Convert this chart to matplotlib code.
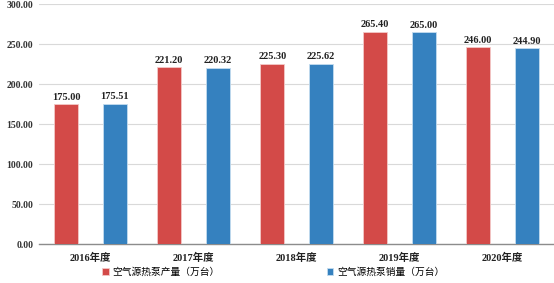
import numpy as np
import matplotlib.pyplot as plt

plt.rcParams['font.family'] = ['Liberation Serif', 'Noto Sans CJK SC']

years = ['2016年度', '2017年度', '2018年度', '2019年度', '2020年度']
output = [175.00, 221.20, 225.30, 265.40, 246.00]
sales = [175.51, 220.32, 225.62, 265.00, 244.90]
labels = ['空气源热泵产量（万台）', '空气源热泵销量（万台）']

red = '#D34A48'
blue = '#3581BF'

fig = plt.figure(figsize=(5.54, 2.83), dpi=100)
ax = fig.add_axes([0.0704, 0.1378, 0.9296, 0.848])

x = np.arange(len(years))
w = 0.235
b1 = ax.bar(x - w, output, w, color=red, edgecolor='#F3C9C8', linewidth=0.6, label=labels[0], zorder=3)
b2 = ax.bar(x + w, sales, w, color=blue, edgecolor='#C3DCEF', linewidth=0.6, label=labels[1], zorder=3)

for bars, vals in ((b1, output), (b2, sales)):
    for r, v in zip(bars, vals):
        ax.text(r.get_x() + r.get_width() / 2, v + 3, '%.2f' % v,
                ha='center', va='bottom', fontsize=7.5, fontweight='bold', color='#222222')

ax.set_xlim(-0.5, len(years) - 0.5)
ax.set_ylim(0, 300)
ax.set_yticks(range(0, 301, 50))
ax.set_yticklabels(['%.2f' % v for v in range(0, 301, 50)], fontsize=7, fontweight='bold', color='#333333')
ax.set_xticks(x)
ax.set_xticklabels(years, fontsize=7.5, fontweight='bold', color='#222222')
ax.tick_params(axis='both', length=0, pad=4)
ax.tick_params(axis='x', pad=6)
ax.yaxis.grid(True, color='#D9D9D9', linewidth=0.8, zorder=0)
for s in ['top', 'right', 'left']:
    ax.spines[s].set_visible(False)
ax.spines['bottom'].set_color('#8C8C8C')
ax.spines['bottom'].set_linewidth(1.0)

fig.legend(loc='center', bbox_to_anchor=(0.493, 0.039), ncol=2, frameon=False,
           fontsize=7, handlelength=0.7, handleheight=0.7, handletextpad=0.4,
           columnspacing=11, borderpad=0)

fig.savefig('out.png', dpi=100)
